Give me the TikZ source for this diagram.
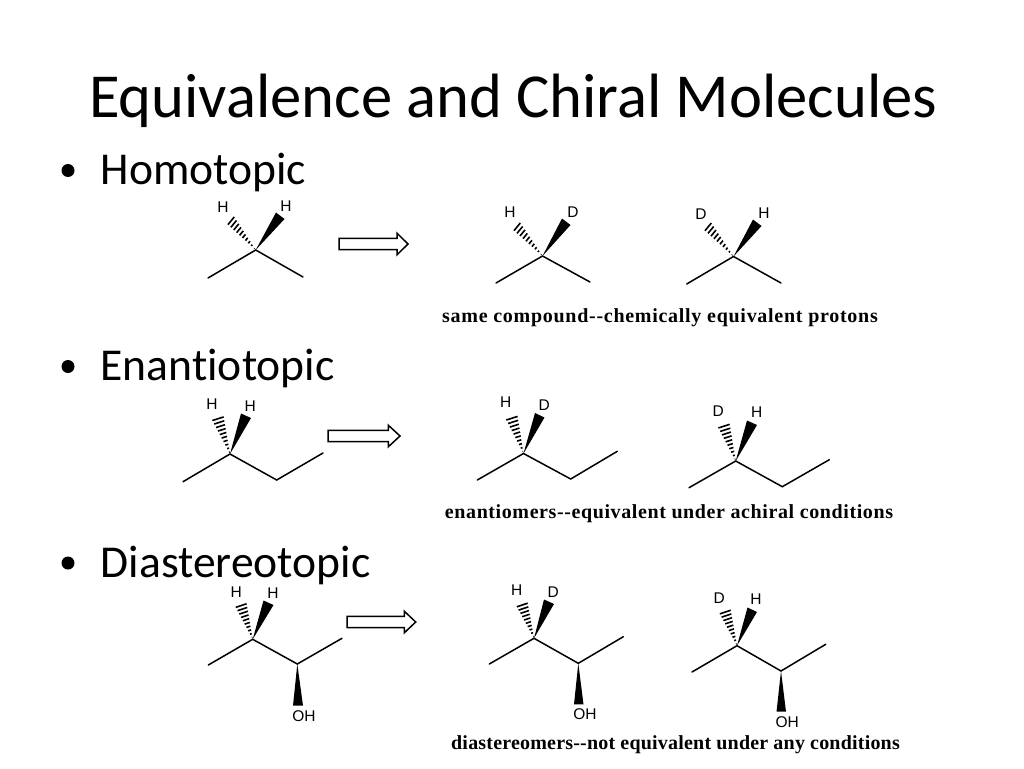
\documentclass[tikz,border=0pt]{standalone}
\usepackage{fontspec}
\setmainfont{Carlito}[Ligatures=NoCommon]
\newfontfamily\capfont{Liberation Serif}
\newfontfamily\atomfont{Liberation Sans}
\usetikzlibrary{calc}
\tikzset{
	bond/.style={line width=1.5pt, line cap=round},
	hash/.style={line width=1.6pt},
	title/.style={inner sep=0, anchor=base west, font=\fontsize{62.6}{62.6}\selectfont},
	topic/.style={inner sep=0, anchor=base west, font=\fontsize{45.6}{45.6}\selectfont},
	dot/.style={circle, fill=black, inner sep=0, minimum size=13pt},
	atom/.style={inner sep=0, font=\atomfont\fontsize{15.5}{15.5}\selectfont},
	note/.style={inner sep=0, anchor=base, font=\capfont\bfseries\fontsize{20}{20}\selectfont},
	blockarrow/.style={line width=1.5pt, fill=white, line join=miter}
}
% filled wedge from a centre to the two corners of its wide end
\def\wedgebond(#1)(#2)(#3){\fill (#1) -- (#2) -- (#3) -- cycle;}
% hashed wedge, same arguments
\def\hashbond(#1)(#2)(#3){\foreach \t in {0.05,0.145,...,1.0}{\draw[hash] ($(#1)!\t!(#2)$) -- ($(#1)!\t!(#3)$);}}
% hollow arrow: left end, tip, half height of shaft and of head, start of head
\def\blockarrow(#1,#2)(#3)(#4){\draw[blockarrow] (#1, #2-5.7) -- (#4, #2-5.7) -- (#4, #2-10.8) -- (#3, #2) -- (#4, #2+10.8) -- (#4, #2+5.7) -- (#1, #2+5.7) -- cycle;}
\begin{document}
\begin{tikzpicture}[x=1pt, y=-1pt]
	%%%%% START %%%%%
	\useasboundingbox (0, 0) rectangle (1024, 768);
	\fill[white] (0, 0) rectangle (1024, 768);

	\node[title] (heading) at (89, 117) {Equivalence and Chiral Molecules};

	\node[dot] (dota) at (68, 170.5) {};
	\node[topic] (homo) at (100.5, 184.5) {Homotopic};
	\node[dot] (dotb) at (68, 366.5) {};
	\node[topic] (enan) at (100.5, 380.5) {Enantiotopic};
	\node[dot] (dotc) at (68, 563) {};
	\node[topic] (dias) at (100.5, 577) {Diastereotopic};

	%%%%% homotopic row
	\coordinate (a0) at (255.7, 250);
	\coordinate (a1) at (208, 278);
	\coordinate (a2) at (303, 277);
	\draw[bond] (a1) -- (a0) -- (a2);
	\wedgebond(a0)(276, 212.5)(284.5, 219)
	\hashbond(a0)(232, 213.5)(225, 222)
	\node[atom] (ah) at (223, 207) {H};
	\node[atom] (ai) at (286, 206) {H};

	\blockarrow(339, 244)(408)(397)

	\coordinate (b0) at (542.5, 256);
	\coordinate (b1) at (496, 283);
	\coordinate (b2) at (590, 282);
	\draw[bond] (b1) -- (b0) -- (b2);
	\wedgebond(b0)(562, 218.5)(570.5, 225)
	\hashbond(b0)(518, 219.5)(511, 228)
	\node[atom] (bh) at (510, 212) {H};
	\node[atom] (bd) at (573, 212) {D};

	\coordinate (c0) at (733.5, 256.5);
	\coordinate (c1) at (686.7, 284);
	\coordinate (c2) at (781, 283);
	\draw[bond] (c1) -- (c0) -- (c2);
	\wedgebond(c0)(753, 219.5)(761.5, 226)
	\hashbond(c0)(709, 219.5)(702, 228)
	\node[atom] (cd) at (701, 214) {D};
	\node[atom] (ch) at (764, 213) {H};

	\node[note] (samenote) at (660, 322.5) {\addfontfeature{LetterSpace=3.6}same compound--chemically equivalent protons};

	%%%%% enantiotopic row
	\coordinate (d0) at (230, 454);
	\coordinate (d1) at (183, 481.7);
	\coordinate (d2) at (276.7, 480);
	\coordinate (d3) at (323, 453);
	\draw[bond] (d1) -- (d0) -- (d2) -- (d3);
	\wedgebond(d0)(241, 413.5)(251, 418)
	\hashbond(d0)(223, 413)(210.5, 417)
	\node[atom] (dh) at (212, 404) {H};
	\node[atom] (di) at (250.3, 405.7) {H};

	\blockarrow(328, 436)(400)(388.3)

	\coordinate (e0) at (523.5, 453.5);
	\coordinate (e1) at (477.3, 480);
	\coordinate (e2) at (570.7, 479);
	\coordinate (e3) at (617.3, 451.3);
	\draw[bond] (e1) -- (e0) -- (e2) -- (e3);
	\wedgebond(e0)(535, 413)(544.5, 417.5)
	\hashbond(e0)(517, 412.5)(504.5, 416.5)
	\node[atom] (eh) at (505.7, 402.3) {H};
	\node[atom] (ed) at (544.3, 405) {D};

	\coordinate (f0) at (735.7, 461);
	\coordinate (f1) at (689, 487.7);
	\coordinate (f2) at (782.3, 486.7);
	\coordinate (f3) at (829.3, 459.7);
	\draw[bond] (f1) -- (f0) -- (f2) -- (f3);
	\wedgebond(f0)(747, 420.5)(757, 425)
	\hashbond(f0)(729, 420.5)(716.5, 424.5)
	\node[atom] (fd) at (718.3, 411) {D};
	\node[atom] (fh) at (756.7, 412.3) {H};

	\node[note] (enannote) at (669, 518.5) {\addfontfeature{LetterSpace=3}enantiomers--equivalent under achiral conditions};

	%%%%% diastereotopic row
	\coordinate (g0) at (252.7, 639.3);
	\coordinate (g1) at (208.3, 665);
	\coordinate (g2) at (297.3, 664);
	\coordinate (g3) at (342, 638.3);
	\draw[bond] (g1) -- (g0) -- (g2) -- (g3);
	\wedgebond(g0)(263.5, 600.5)(273.5, 605)
	\hashbond(g0)(246, 600)(234, 604)
	\wedgebond(g2)(293, 705.7)(303, 705.7)
	\node[atom] (gh) at (236.3, 591.7) {H};
	\node[atom] (gi) at (273, 593.3) {H};
	\node[atom] (goh) at (304, 716) {OH};

	\blockarrow(347, 622)(415.7)(404.3)

	\coordinate (h0) at (534, 638.3);
	\coordinate (h1) at (489.3, 664);
	\coordinate (h2) at (578.3, 663.3);
	\coordinate (h3) at (623.3, 636.7);
	\draw[bond] (h1) -- (h0) -- (h2) -- (h3);
	\wedgebond(h0)(544, 599.5)(554, 604)
	\hashbond(h0)(527, 599.5)(515, 603.5)
	\wedgebond(h2)(574, 704.3)(583.5, 704.3)
	\node[atom] (hh) at (516.7, 590) {H};
	\node[atom] (hd) at (553.3, 591.7) {D};
	\node[atom] (hoh) at (585, 714.3) {OH};

	\coordinate (i0) at (737, 645.7);
	\coordinate (i1) at (692, 672);
	\coordinate (i2) at (781, 671);
	\coordinate (i3) at (825.7, 644.3);
	\draw[bond] (i1) -- (i0) -- (i2) -- (i3);
	\wedgebond(i0)(747.5, 607.5)(757, 612)
	\hashbond(i0)(730, 606.5)(718, 610.5)
	\wedgebond(i2)(776.5, 711.7)(786, 711.7)
	\node[atom] (id) at (719.3, 598.3) {D};
	\node[atom] (ih) at (756, 599) {H};
	\node[atom] (ioh) at (787.3, 722) {OH};

	\node[note] (diasnote) at (675.5, 749.5) {\addfontfeature{LetterSpace=1}diastereomers--not equivalent under any conditions};
	%%%%% END %%%%%
\end{tikzpicture}
\end{document}
